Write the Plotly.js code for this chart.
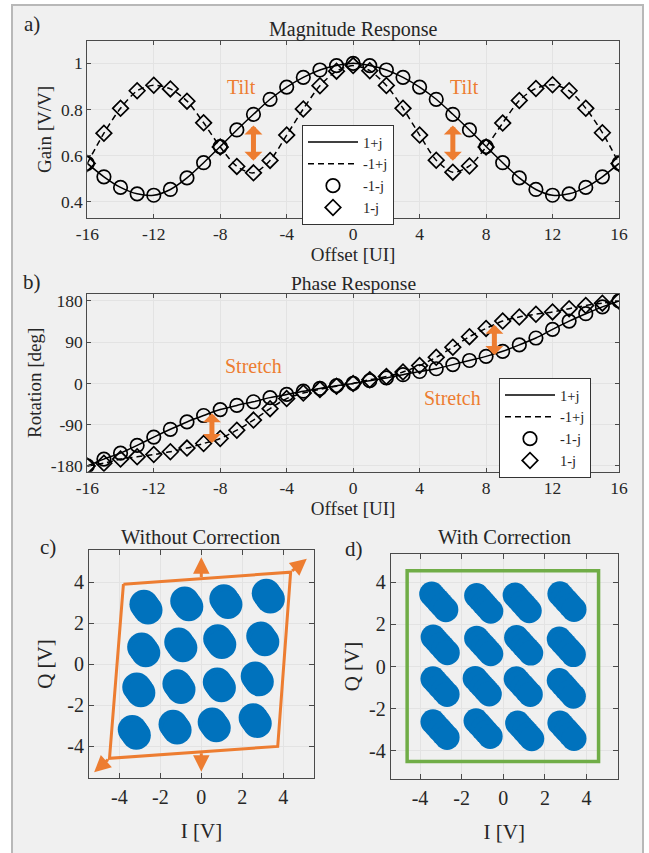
<!DOCTYPE html>
<html><head><meta charset="utf-8">
<script src="https://cdn.plot.ly/plotly-3.0.1.min.js"></script>
<style>html,body{margin:0;padding:0;background:#fff;}#chart{width:649px;height:853px;}</style>
</head><body><div id="chart"></div>
<script>
// ---------- data ----------
const offsets = [-16,-15,-14,-13,-12,-11,-10,-9,-8,-7,-6,-5,-4,-3,-2,-1,0,1,2,3,4,5,6,7,8,9,10,11,12,13,14,15,16];

// a) Magnitude response (gain, V/V)
const gain_1pj  = [0.566,0.508,0.462,0.434,0.428,0.453,0.503,0.569,0.639,0.711,0.779,0.844,0.897,0.939,0.971,0.990,1.000,0.990,0.971,0.939,0.897,0.844,0.779,0.711,0.639,0.569,0.503,0.453,0.428,0.434,0.462,0.508,0.566];
const gain_m1pj = [0.566,0.697,0.805,0.881,0.905,0.889,0.836,0.742,0.637,0.553,0.525,0.579,0.689,0.802,0.903,0.966,0.990,0.968,0.904,0.805,0.689,0.580,0.528,0.555,0.637,0.741,0.839,0.891,0.907,0.881,0.805,0.699,0.566];
const gain_m1mj = [0.566,0.508,0.462,0.434,0.428,0.453,0.503,0.569,0.639,0.711,0.779,0.844,0.897,0.939,0.971,0.990,1.000,0.990,0.971,0.939,0.897,0.844,0.779,0.711,0.639,0.569,0.503,0.453,0.428,0.434,0.462,0.508,0.566];
const gain_1mj  = [0.566,0.697,0.805,0.881,0.905,0.889,0.836,0.742,0.637,0.553,0.525,0.579,0.689,0.802,0.903,0.966,0.990,0.968,0.904,0.805,0.689,0.580,0.528,0.555,0.637,0.741,0.839,0.891,0.907,0.881,0.805,0.699,0.566];

// b) Phase response (rotation, deg)
const rot_1pj  = [-180,-165,-152,-135,-117,-100,-84,-70,-57,-48,-40,-31,-24,-17,-11,-5,0,6,12,19,26,32,41,50,59,70,84,99,118,136,152,167,180];
const rot_m1pj = [-180,-174,-165,-160,-155,-149,-141,-131,-120,-102,-80,-55,-33,-21,-13,-6,0,8,15,25,39,57,79,102,120,136,145,151,156,163,170,175,180];
const rot_m1mj = [-180,-165,-152,-135,-117,-100,-84,-70,-57,-48,-40,-31,-24,-17,-11,-5,0,6,12,19,26,32,41,50,59,70,84,99,118,136,152,167,180];
const rot_1mj  = [-180,-174,-165,-160,-155,-149,-141,-131,-120,-102,-80,-55,-33,-21,-13,-6,0,8,15,25,39,57,79,102,120,136,145,151,156,163,170,175,180];

const seriesNames = ['1+j','-1+j','-1-j','1-j'];
const gainTicks = [0.4,0.6,0.8,1];
const gainTickText = ['0.4','0.6','0.8','1'];
const rotTicks = [-180,-90,0,90,180];
const rotTickText = ['-180','-90','0','90','180'];
const offsetTicks = [-16,-12,-8,-4,0,4,8,12,16];
const offsetTickText = ['-16','-12','-8','-4','0','4','8','12','16'];
const iqTicks = [-4,-2,0,2,4];
const iqTickText = ['-4','-2','0','2','4'];

// annotations of a) and b)
const tiltX = [-6.7, 6.7], tiltY = [0.897, 0.897];
const tiltArrowX = [-6, 6], tiltArrowLo = [0.578, 0.578], tiltArrowHi = [0.737, 0.737];
const stretchX = [-6.0, 5.95], stretchY = [38, -32];
const stretchArrowX = [-8.5, 8.5], stretchArrowLo = [-130, 62], stretchArrowHi = [-62, 131];

// c) Without correction: cluster centres (I, Q in V)
const cI = [-2.70,-0.71,1.20,3.27, -2.81,-1.00,0.90,3.00, -3.05,-1.09,0.88,2.73, -3.27,-1.28,0.63,2.63];
const cQ = [ 2.79, 2.95,3.06,3.33,  0.71, 0.95,1.11,1.24, -1.24,-1.08,-1.00,-0.71, -3.31,-3.06,-2.95,-2.74];
// skewed outline and arrows
const skewX = [-3.80, 4.36, 3.73, -4.48, -3.80];
const skewY = [ 3.91, 4.50, -4.00, -4.58, 3.91];
const cArrowFromX = [4.36, -4.48, 0, 0], cArrowFromY = [4.50, -4.58, 4.19, -4.26];
const cArrowToX   = [5.15, -5.23, 0, 0], cArrowToY   = [5.15, -5.26, 5.23, -5.23];

// d) With correction: cluster centres
const dI = [-3.10,-0.94,0.91,3.06, -3.03,-0.94,0.98,3.03, -3.04,-1.01,0.96,3.03, -3.04,-0.97,1.03,3.06];
const dQ = [ 3.07, 3.00,3.02,3.08,  1.03, 0.98,1.01,0.94, -0.95,-0.93,-0.95,-1.03, -2.99,-2.94,-3.05,-3.04];
const boxX = [-4.62, 4.58], boxY = [-4.50, 4.54];

// ---------- style ----------
const W = 649, H = 853;
const SERIF = 'Liberation Serif, Times New Roman, serif';
const ORANGE = '#ED7D31', GREEN = '#70AD47', BLUE = '#0072BD', INK = '#262626', AXC = '#4a4a4a';
const dx = (a, b) => [a / W, b / W];
const dy = (top, bot) => [1 - bot / H, 1 - top / H];

function axis(extra, fs) {
  return Object.assign({
    showline: true, mirror: 'ticks', linecolor: AXC, linewidth: 1,
    ticks: 'inside', tickcolor: AXC, ticklen: 4, tickmode: 'array',
    showgrid: true, gridcolor: '#e3e3e3', gridwidth: 1, zeroline: false,
    tickfont: {family: SERIF, size: fs, color: INK}, automargin: false, fixedrange: true
  }, extra);
}

// blob shapes for clusters (drawn from centres)
function blobs(ci, cq, ts, ox, oy) {
  const x = [], y = [];
  ci.forEach((c, k) => ts.forEach(t => { x.push(c + t * ox); y.push(cq[k] + t * oy); }));
  return {x, y};
}
const bc = blobs(cI, cQ, [-1, 0, 1], 0.10, -0.14);
const bd = blobs(dI, dQ, [-1, -0.5, 0, 0.5, 1], 0.34, -0.37);

const traces = [];
function respTraces(xa, ya, leg, y1, y2, y3, y4) {
  traces.push({x: offsets, y: y1, xaxis: xa, yaxis: ya, legend: leg, name: seriesNames[0], mode: 'lines',
    line: {color: '#000', width: 1.5, shape: 'spline', smoothing: 0.8}});
  traces.push({x: offsets, y: y2, xaxis: xa, yaxis: ya, legend: leg, name: seriesNames[1], mode: 'lines',
    line: {color: '#000', width: 1.5, dash: '6px,4px', shape: 'spline', smoothing: 0.8}});
  traces.push({x: offsets, y: y3, xaxis: xa, yaxis: ya, legend: leg, name: seriesNames[2], mode: 'markers',
    marker: {symbol: 'circle-open', size: 13.5, color: '#000', line: {width: 1.7}}});
  traces.push({x: offsets, y: y4, xaxis: xa, yaxis: ya, legend: leg, name: seriesNames[3], mode: 'markers',
    marker: {symbol: 'diamond-open', size: 12, color: '#000', line: {width: 1.7}}});
}
respTraces('x', 'y', 'legend', gain_1pj, gain_m1pj, gain_m1mj, gain_1mj);
respTraces('x2', 'y2', 'legend2', rot_1pj, rot_m1pj, rot_m1mj, rot_1mj);

traces.push({x: bc.x, y: bc.y, xaxis: 'x3', yaxis: 'y3', mode: 'markers', showlegend: false, hoverinfo: 'skip',
  marker: {size: 29, color: BLUE}});
traces.push({x: skewX, y: skewY, xaxis: 'x3', yaxis: 'y3', mode: 'lines', showlegend: false,
  line: {color: ORANGE, width: 3}});
traces.push({x: bd.x, y: bd.y, xaxis: 'x4', yaxis: 'y4', mode: 'markers', showlegend: false, hoverinfo: 'skip',
  marker: {size: 25, color: BLUE}});

// ---------- annotations ----------
const ann = [];
function txt(text, xpx, ypx, size, extra) {
  ann.push(Object.assign({text, x: xpx / W, y: 1 - ypx / H, xref: 'paper', yref: 'paper', showarrow: false,
    xanchor: 'center', yanchor: 'middle', font: {family: SERIF, size, color: INK}}, extra || {}));
}
txt('a)', 32, 24, 21);
txt('b)', 32, 282, 21);
txt('c)', 48, 547, 21);
txt('d)', 354, 549, 21);
txt('Magnitude Response', 353, 29, 20);
txt('Phase Response', 353, 283, 19.5);
txt('Without Correction', 200, 537, 20.5);
txt('With Correction', 504, 537, 20.5);

const arrowAB = {showarrow: true, arrowhead: 1, arrowside: 'end+start', arrowwidth: 5, arrowsize: 0.6,
  arrowcolor: ORANGE, standoff: 0, startstandoff: 0, text: ''};
tiltX.forEach((x, k) => ann.push({text: 'Tilt', x, y: tiltY[k], xref: 'x', yref: 'y', showarrow: false,
  font: {family: SERIF, size: 20, color: ORANGE}}));
tiltArrowX.forEach((x, k) => ann.push(Object.assign({x, y: tiltArrowLo[k], ax: x, ay: tiltArrowHi[k],
  xref: 'x', yref: 'y', axref: 'x', ayref: 'y'}, arrowAB)));
stretchX.forEach((x, k) => ann.push({text: 'Stretch', x, y: stretchY[k], xref: 'x2', yref: 'y2', showarrow: false,
  font: {family: SERIF, size: 20, color: ORANGE}}));
stretchArrowX.forEach((x, k) => ann.push(Object.assign({x, y: stretchArrowLo[k], ax: x, ay: stretchArrowHi[k],
  xref: 'x2', yref: 'y2', axref: 'x2', ayref: 'y2'}, arrowAB)));
cArrowToX.forEach((x, k) => ann.push({text: '', x, y: cArrowToY[k], ax: cArrowFromX[k], ay: cArrowFromY[k],
  xref: 'x3', yref: 'y3', axref: 'x3', ayref: 'y3', showarrow: true, arrowhead: 2,
  arrowwidth: 3, arrowsize: 1.1, arrowcolor: ORANGE, standoff: 0, startstandoff: 0}));

const legendStyle = {bgcolor: '#fff', bordercolor: '#333', borderwidth: 1, font: {family: SERIF, size: 14.5, color: INK},
  xanchor: 'left', yanchor: 'top', tracegroupgap: 0, itemwidth: 50};

const tf = (s) => ({family: SERIF, size: s, color: INK});
const layout = {
  width: W, height: H, margin: {l: 0, r: 0, t: 0, b: 0},
  paper_bgcolor: '#fff', plot_bgcolor: '#fff', showlegend: true,
  font: {family: SERIF, color: INK},
  xaxis: axis({domain: dx(87.3, 619), anchor: 'y', range: [-16, 16], tickvals: offsetTicks, ticktext: offsetTickText,
    ticklabelstandoff: 0, title: {text: 'Offset [UI]', font: tf(19), standoff: 4}}, 17.5),
  yaxis: axis({domain: dy(40.7, 218.3), anchor: 'x', range: [0.328, 1.098], tickvals: gainTicks, ticktext: gainTickText,
    title: {text: 'Gain [V/V]', font: tf(19), standoff: 4}}, 17.5),
  xaxis2: axis({domain: dx(87.3, 619), anchor: 'y2', range: [-16, 16], tickvals: offsetTicks, ticktext: offsetTickText,
    ticklabelstandoff: 0, title: {text: 'Offset [UI]', font: tf(19), standoff: 3}}, 17.5),
  yaxis2: axis({domain: dy(294, 471.7), anchor: 'x2', range: [-192.5, 195], tickvals: rotTicks, ticktext: rotTickText,
    title: {text: 'Rotation [deg]', font: tf(19), standoff: 4}}, 17.5),
  xaxis3: axis({domain: dx(89, 314), anchor: 'y3', range: [-5.48, 5.5], tickvals: iqTicks, ticktext: iqTickText, ticklen: 5,
    ticklabelstandoff: 1, title: {text: 'I [V]', font: tf(21), standoff: 16}}, 20),
  yaxis3: axis({domain: dy(550, 778), anchor: 'x3', range: [-5.54, 5.58], tickvals: iqTicks, ticktext: iqTickText, ticklen: 5,
    title: {text: 'Q [V]', font: tf(21), standoff: 8}}, 20),
  xaxis4: axis({domain: dx(390.7, 617.7), anchor: 'y4', range: [-5.41, 5.5], tickvals: iqTicks, ticktext: iqTickText, ticklen: 5,
    ticklabelstandoff: 1, title: {text: 'I [V]', font: tf(21), standoff: 16}}, 20),
  yaxis4: axis({domain: dy(554, 779), anchor: 'x4', range: [-5.33, 5.34], tickvals: iqTicks, ticktext: iqTickText, ticklen: 5,
    title: {text: 'Q [V]', font: tf(21), standoff: 3}}, 20),
  legend: Object.assign({x: 302 / W, y: 1 - 125 / H}, legendStyle),
  legend2: Object.assign({x: 499 / W, y: 1 - 378 / H}, legendStyle),
  annotations: ann,
  shapes: [
    {type: 'rect', xref: 'paper', yref: 'paper', x0: 12 / W, x1: 643 / W, y0: -0.02, y1: 1 - 5 / H,
      fillcolor: '#f0f0f0', line: {color: '#b8b8b8', width: 2}, layer: 'below'},
    {type: 'rect', xref: 'x4', yref: 'y4', x0: boxX[0], x1: boxX[1], y0: boxY[0], y1: boxY[1],
      line: {color: GREEN, width: 3.5}, fillcolor: 'rgba(0,0,0,0)', layer: 'above'}
  ]
};

Plotly.newPlot('chart', traces, layout, {displayModeBar: false, staticPlot: true});
</script></body></html>
